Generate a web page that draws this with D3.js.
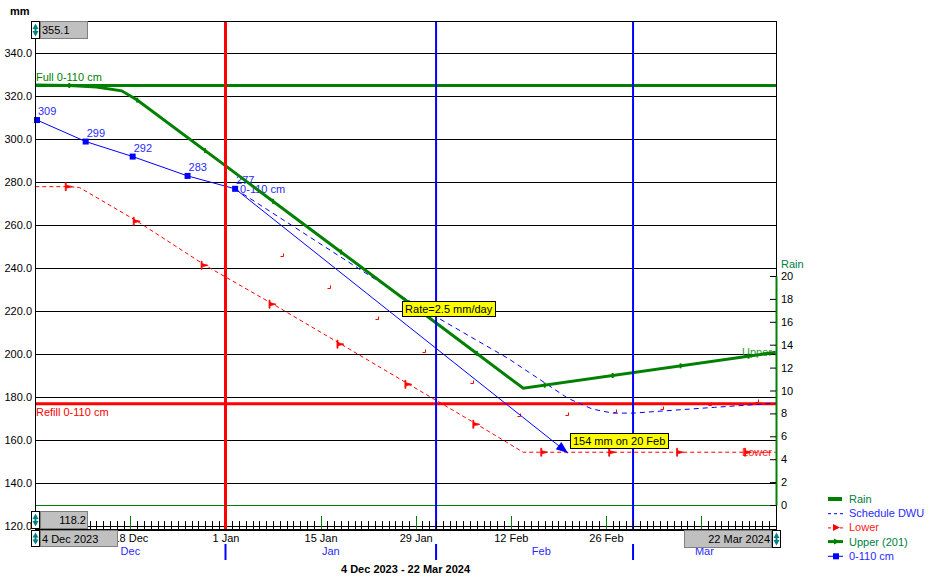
<!DOCTYPE html>
<html><head><meta charset="utf-8">
<script src="https://cdn.jsdelivr.net/npm/d3@7/dist/d3.min.js"></script>
<style>
html,body{margin:0;padding:0;background:#fff;}
svg{display:block;font-family:"Liberation Sans",Arial,Helvetica,sans-serif;font-size:11px;}
</style></head><body>
<svg id="chart" width="940" height="585"></svg>
<script>
// ---------------- DATA ----------------
const dateStart = "2023-12-04", dateEnd = "2024-03-22";
const mmMin = 118.2, mmMax = 355.1;
const mmTicks = [120,140,160,180,200,220,240,260,280,300,320,340];
const rainTicks = [0,2,4,6,8,10,12,14,16,18,20];
const rainMax = 20;
const dateTickDates = ["2023-12-04","2023-12-18","2024-01-01","2024-01-15","2024-01-29","2024-02-12","2024-02-26","2024-03-11"];
const dateLabelDates = ["2023-12-18","2024-01-01","2024-01-15","2024-01-29","2024-02-12","2024-02-26"];
const dateTickLabels = ["18 Dec","1 Jan","15 Jan","29 Jan","12 Feb","26 Feb"];
const monthStartDates = ["2023-12-01","2024-01-01","2024-02-01","2024-03-01"];
const monthLabels = ["Dec","Jan","Feb","Mar"];
const todayDate = "2024-01-01";
const fullValue = 325.1, refillValue = 177.0;
const fullLabel = "Full 0-110 cm", refillLabel = "Refill 0-110 cm";
const periodTitle = "4 Dec 2023 - 22 Mar 2024";
const startBoxLabel = "4 Dec 2023", endBoxLabel = "22 Mar 2024";

// measured 0-110 cm
const measDates = ["2023-12-04T06:00","2023-12-11T10:00","2023-12-18T08:00","2023-12-26T10:00","2024-01-02T10:00"];
const measValues = [309,299,292,283,277];
const measLabel = "0-110 cm";
// projection
const projDates = ["2024-01-02T10:00","2024-02-20T10:00"];
const projValues = [277,154];
const projText = "154 mm on 20 Feb";
const rateText = "Rate=2.5 mm/day";
// schedule DWU
const schedDates = ["2024-01-02T10:00","2024-01-15T07:00","2024-01-28T07:00","2024-02-11T14:00","2024-02-20T10:00","2024-02-24","2024-02-27","2024-03-01","2024-03-13","2024-03-22"];
const schedValues = [277,250.7,224.2,198.1,179.5,174.5,172.6,172.6,175.3,177.2];
// upper (201)
const upperDates = ["2023-12-04","2023-12-09","2023-12-13","2023-12-16T17:00","2023-12-19","2024-01-03","2024-01-18","2024-02-02","2024-02-13T20:00","2024-03-22"];
const upperValues = [325.3,325.1,324.4,322.6,318.3,283.0,247.6,212.2,184.2,200.9];
const upperMarkDates = ["2023-12-09","2023-12-19","2023-12-29","2024-01-08","2024-01-18","2024-01-28","2024-02-07","2024-02-17","2024-02-27","2024-03-08","2024-03-18"];
const upperMarkValues = [325.1,318.3,294.8,271.2,247.6,224.0,200.4,185.6,190.1,194.6,199.1];
// lower
const lowerDates = ["2023-12-04","2023-12-09","2023-12-10T12:00","2023-12-19","2023-12-29","2024-01-08","2024-01-18","2024-01-28","2024-02-07","2024-02-13T20:00","2024-03-22"];
const lowerValues = [278.0,278.0,277.6,261.9,241.4,223.3,204.7,186.0,167.4,154.4,154.4];
const lowerMarkDates = ["2023-12-09","2023-12-19","2023-12-29","2024-01-08","2024-01-18","2024-01-28","2024-02-07","2024-02-17","2024-02-27","2024-03-08","2024-03-18"];
const lowerMarkValues = [278.0,261.9,241.4,223.3,204.7,186.0,167.4,154.4,154.4,154.4,154.4];
// small red schedule marks
const lowerSchedDates = ["2024-01-09T10:00","2024-01-16T10:00","2024-01-23T10:00","2024-01-30T10:00","2024-02-06T10:00","2024-02-13T10:00","2024-02-20T10:00","2024-02-27T10:00","2024-03-05T10:00","2024-03-12T10:00","2024-03-19T10:00"];
const lowerSchedValues = [245.1,230.2,215.8,200.8,186.0,170.7,171.2,172.6,174.0,175.8,177.2];
// rain (none recorded)
const rainDates = [];
const rainValues = [];
const legendLabels = ["Rain","Schedule DWU","Lower","Upper (201)","0-110 cm"];

// ---------------- CHART ----------------
const GREEN = "#008000", BLUE = "#0000ff", RED = "#ff0000", TEAL = "#008080";
const P = s => (s.length > 10 ? d3.timeParse("%Y-%m-%dT%H:%M") : d3.timeParse("%Y-%m-%d"))(s);
const L = 35, R = 776, T = 21, B = 530;
const x = d3.scaleTime().domain([P(dateStart), P(dateEnd)]).range([35.3, 775.7]);
const y = d3.scaleLinear().domain([mmMin, mmMax]).range([B, T]);
const yr = d3.scaleLinear().domain([0, rainMax]).range([505, 276]);
const svg = d3.select("#chart");
const px = v => Math.round(v) + 0.5;

svg.append("defs").append("clipPath").attr("id", "dateclip")
  .append("rect").attr("x", 118).attr("y", 530).attr("width", 566).attr("height", 20);

// gridlines
svg.append("g").selectAll("line").data(mmTicks).join("line")
  .attr("x1", L).attr("x2", R).attr("y1", d => px(y(d))).attr("y2", d => px(y(d)))
  .attr("stroke", "#000").attr("stroke-width", 1);
// rain zero line
svg.append("line").attr("x1", L).attr("x2", R).attr("y1", px(yr(0))).attr("y2", px(yr(0)))
  .attr("stroke", GREEN).attr("stroke-width", 1);
// full / refill
svg.append("line").attr("x1", L).attr("x2", R + 1).attr("y1", y(fullValue)).attr("y2", y(fullValue))
  .attr("stroke", GREEN).attr("stroke-width", 3);
svg.append("line").attr("x1", L).attr("x2", R).attr("y1", y(refillValue)).attr("y2", y(refillValue))
  .attr("stroke", RED).attr("stroke-width", 3);
svg.append("text").attr("x", 36).attr("y", y(fullValue) - 4).attr("fill", GREEN).text(fullLabel);
svg.append("text").attr("x", 36).attr("y", y(refillValue) + 12).attr("fill", RED).text(refillLabel);

// end labels
svg.append("text").attr("x", 772).attr("y", y(upperValues[upperValues.length-1]) + 4)
  .attr("text-anchor", "end").attr("fill", "#2f9a2f").text("Upper");
svg.append("text").attr("x", 772).attr("y", y(lowerValues[lowerValues.length-1]) + 4)
  .attr("text-anchor", "end").attr("fill", "#ff2020").text("Lower");

const line = d3.line().x(d => x(d[0])).y(d => y(d[1]));
const zip = (ds, vs) => ds.map((d, i) => [P(d), vs[i]]);

// lower
svg.append("path").attr("d", line(zip(lowerDates, lowerValues))).attr("fill", "none")
  .attr("stroke", RED).attr("stroke-width", 1).attr("stroke-dasharray", "4,3");
svg.append("g").selectAll("path").data(zip(lowerMarkDates, lowerMarkValues)).join("path")
  .attr("transform", d => `translate(${x(d[0])},${y(d[1])})`)
  .attr("d", "M-4,-4 L-4,4 L-3,4 L-3,1.5 L3,0 L-3,-1.5 L-3,-4 Z")
  .attr("fill", RED).attr("stroke", RED).attr("stroke-width", 0.8);
// small red schedule marks
svg.append("g").selectAll("path").data(zip(lowerSchedDates, lowerSchedValues)).join("path")
  .attr("transform", d => `translate(${Math.round(x(d[0]))},${Math.round(y(d[1]))})`)
  .attr("d", "M-2.5,-0.5 L0.5,-0.5 L0.5,-3.5")
  .attr("fill", "none").attr("stroke", RED).attr("stroke-width", 1);

// schedule DWU
svg.append("path").attr("d", line(zip(schedDates, schedValues))).attr("fill", "none")
  .attr("stroke", BLUE).attr("stroke-width", 1).attr("stroke-dasharray", "5,4");

// projection
const proj = zip(projDates, projValues);
svg.append("path").attr("d", line(proj)).attr("fill", "none").attr("stroke", BLUE).attr("stroke-width", 1);
{
  const x0 = x(proj[0][0]), y0 = y(proj[0][1]), x1 = x(proj[1][0]), y1 = y(proj[1][1]);
  const a = Math.atan2(y1 - y0, x1 - x0) * 180 / Math.PI;
  svg.append("path").attr("transform", `translate(${x1},${y1}) rotate(${a})`)
    .attr("d", "M0,0 L-12,-4.5 L-12,4.5 Z").attr("fill", BLUE);
}

// measured
const meas = zip(measDates, measValues);
svg.append("path").attr("d", line(meas)).attr("fill", "none").attr("stroke", BLUE).attr("stroke-width", 1);
svg.append("g").selectAll("rect").data(meas).join("rect")
  .attr("x", d => x(d[0]) - 3).attr("y", d => y(d[1]) - 3).attr("width", 6).attr("height", 6).attr("fill", BLUE);
svg.append("g").selectAll("text").data(meas).join("text")
  .attr("x", d => x(d[0]) + 1).attr("y", d => y(d[1]) - 5).attr("fill", "#2a2aff").text(d => d[1]);
{
  const last = meas[meas.length - 1];
  svg.append("text").attr("x", x(last[0]) + 5).attr("y", y(last[1]) + 4).attr("fill", "#2a2aff").text(measLabel);
}

// upper
svg.append("path").attr("d", line(zip(upperDates, upperValues))).attr("fill", "none")
  .attr("stroke", GREEN).attr("stroke-width", 3);
svg.append("g").selectAll("rect").data(zip(upperMarkDates, upperMarkValues)).join("rect")
  .attr("x", d => x(d[0]) - 1).attr("y", d => y(d[1]) - 2.5).attr("width", 2).attr("height", 5).attr("fill", GREEN);

// vertical month lines + today
svg.append("g").selectAll("line").data(monthStartDates.slice(1)).join("line")
  .attr("x1", d => x(P(d))).attr("x2", d => x(P(d))).attr("y1", T).attr("y2", B)
  .attr("stroke", BLUE).attr("stroke-width", 2);
svg.append("line").attr("x1", x(P(todayDate))).attr("x2", x(P(todayDate))).attr("y1", T).attr("y2", B)
  .attr("stroke", RED).attr("stroke-width", 3);

// frame
svg.append("line").attr("x1", L + 0.5).attr("x2", L + 0.5).attr("y1", T).attr("y2", B).attr("stroke", "#000");
svg.append("line").attr("x1", L).attr("x2", R).attr("y1", T + 0.5).attr("y2", T + 0.5).attr("stroke", "#000");
svg.append("line").attr("x1", R + 0.5).attr("x2", R + 0.5).attr("y1", T).attr("y2", B).attr("stroke", "#000");

// minor daily ticks
const days = d3.timeDay.range(P(dateStart), d3.timeDay.offset(P(dateEnd), 1));
svg.append("g").selectAll("line").data(days).join("line")
  .attr("x1", d => px(x(d))).attr("x2", d => px(x(d))).attr("y1", 521).attr("y2", B)
  .attr("stroke", "#000").attr("stroke-width", 1);
svg.append("g").selectAll("line").data(dateTickDates).join("line")
  .attr("x1", d => px(x(P(d)))).attr("x2", d => px(x(P(d)))).attr("y1", 516).attr("y2", B)
  .attr("stroke", GREEN).attr("stroke-width", 1);
// redraw today line over ticks
svg.append("line").attr("x1", x(P(todayDate))).attr("x2", x(P(todayDate))).attr("y1", 500).attr("y2", B)
  .attr("stroke", RED).attr("stroke-width", 3);
// bottom axis line
svg.append("line").attr("x1", L).attr("x2", R + 1).attr("y1", B).attr("y2", B).attr("stroke", "#000").attr("stroke-width", 2);

// left axis labels
const yAxis = d3.axisLeft(y).tickValues(mmTicks).tickFormat(d3.format(".1f")).tickSize(0).tickPadding(3);
const gy = svg.append("g").attr("transform", `translate(${L},0)`).call(yAxis);
gy.select(".domain").remove();
gy.selectAll("text").attr("fill", "#000").style("font-size", "11px").style("font-family", "'Liberation Sans',Arial,sans-serif");

// bottom date labels (partly hidden under the start box, as in the source)
const xAxis = d3.axisBottom(x).tickValues(dateLabelDates.map(P)).tickFormat((d, i) => dateTickLabels[i]).tickSize(0).tickPadding(4);
const gx = svg.append("g").attr("clip-path", "url(#dateclip)").append("g").attr("transform", `translate(0,${B})`).call(xAxis);
gx.select(".domain").remove();
gx.selectAll("text").attr("fill", "#000").style("font-size", "11px").style("font-family", "'Liberation Sans',Arial,sans-serif");

// month labels + ticks
const xs = P(dateStart), xe = P(dateEnd);
svg.append("g").selectAll("text").data(monthStartDates).join("text")
  .attr("x", d => {
    const s = P(d) < xs ? xs : P(d);
    const e0 = d3.timeDay.offset(P(d), 31);
    const e = e0 > xe ? xe : e0;
    return (x(s) + x(e)) / 2;
  })
  .attr("y", 555).attr("text-anchor", "middle").attr("fill", "#2a2aff").text((d, i) => monthLabels[i]);
svg.append("g").selectAll("line").data(monthStartDates.slice(1)).join("line")
  .attr("x1", d => x(P(d))).attr("x2", d => x(P(d))).attr("y1", 544).attr("y2", 560)
  .attr("stroke", BLUE).attr("stroke-width", 2);

// title
svg.append("text").attr("x", (L + R) / 2).attr("y", 573).attr("text-anchor", "middle")
  .attr("font-weight", "bold").attr("fill", "#000").text(periodTitle);
svg.append("text").attr("x", 10).attr("y", 15).attr("font-weight", "bold").attr("fill", "#000").text("mm");

// rain axis
const rAxis = d3.axisRight(yr).tickValues(rainTicks).tickSizeInner(-6).tickSizeOuter(0).tickPadding(5);
const gr = svg.append("g").attr("transform", `translate(${R},0)`).call(rAxis);
gr.select(".domain").attr("stroke", GREEN).attr("stroke-width", 2);
gr.selectAll(".tick line").attr("stroke", "#000");
gr.selectAll("text").attr("fill", "#000").style("font-size", "11px").style("font-family", "'Liberation Sans',Arial,sans-serif");
svg.append("text").attr("x", 781).attr("y", 268).attr("fill", "#008040").text("Rain");
svg.append("g").selectAll("rect").data(zip(rainDates, rainValues)).join("rect")
  .attr("x", d => x(d[0]) - 2).attr("y", d => yr(d[1])).attr("width", 4).attr("height", d => yr(0) - yr(d[1])).attr("fill", GREEN);

// spinner boxes
function spinner(sx, sy, h) {
  const g = svg.append("g");
  g.append("rect").attr("x", sx + 0.5).attr("y", sy + 0.5).attr("width", 8).attr("height", h - 1)
    .attr("fill", "#fff").attr("stroke", "#000");
  const m = sy + h / 2;
  g.append("path").attr("d", `M${sx+1.5},${m-1} L${sx+7.5},${m-1} L${sx+4.5},${sy+2.5} Z`).attr("fill", TEAL);
  g.append("path").attr("d", `M${sx+1.5},${m+1} L${sx+7.5},${m+1} L${sx+4.5},${sy+h-2.5} Z`).attr("fill", TEAL);
  g.append("line").attr("x1", sx + 4.5).attr("x2", sx + 4.5).attr("y1", m - 2).attr("y2", m + 2).attr("stroke", TEAL).attr("stroke-width", 2);
}
function grayBox(bx, by, w, h, txt, anchor) {
  svg.append("rect").attr("x", bx + 0.5).attr("y", by + 0.5).attr("width", w - 1).attr("height", h - 1)
    .attr("fill", "#c0c0c0").attr("stroke", "#808080");
  svg.append("text").attr("x", anchor === "end" ? bx + w - 2 : bx + 2).attr("y", by + h / 2 + 4)
    .attr("text-anchor", anchor).attr("fill", "#000").text(txt);
}
grayBox(40, 21, 48, 18, d3.format(".1f")(mmMax), "start"); spinner(31, 21, 18);
grayBox(40, 511, 48, 18, d3.format(".1f")(mmMin), "end"); spinner(31, 511, 18);
grayBox(40, 530, 78, 17, startBoxLabel, "start"); spinner(31, 530, 17);
grayBox(684, 530, 88, 18, endBoxLabel, "end"); spinner(772, 530, 18);

// annotation boxes
function noteBox(lx, cy, txt) {
  const g = svg.append("g");
  const r = g.append("rect").attr("fill", "#ffff00").attr("stroke", "#000");
  const t = g.append("text").attr("x", lx + 3).attr("y", cy + 4).attr("fill", "#000").text(txt);
  const w = t.node().getComputedTextLength() + 6;
  r.attr("x", Math.round(lx) + 0.5).attr("y", Math.round(cy - 8) + 0.5).attr("width", Math.round(w)).attr("height", 15);
}
noteBox(x(P("2024-01-27T00:00")), y(221.2), rateText);
noteBox(x(proj[1][0]) + 2, y(proj[1][1]) - 12, projText);

// legend
const lg = svg.append("g").attr("transform", "translate(828,499)");
const rowH = 14.2;
const tcols = ["#008040", "#2a2aff", "#ff2020", "#008040", "#2a2aff"];
legendLabels.forEach((lab, i) => {
  const yy = i * rowH;
  const g = lg.append("g").attr("transform", `translate(0,${yy})`);
  if (i === 0) g.append("line").attr("x1", 0).attr("x2", 14).attr("y1", 0).attr("y2", 0).attr("stroke", GREEN).attr("stroke-width", 4);
  if (i === 1) g.append("line").attr("x1", 0).attr("x2", 15).attr("y1", 0.5).attr("y2", 0.5).attr("stroke", BLUE).attr("stroke-dasharray", "3,3");
  if (i === 2) {
    g.append("line").attr("x1", 0).attr("x2", 15).attr("y1", 0.5).attr("y2", 0.5).attr("stroke", RED).attr("stroke-dasharray", "3,3");
    g.append("path").attr("transform", "translate(9,0)").attr("d", "M-4,-3.5 L-4,3.5 L3,0 Z").attr("fill", RED);
  }
  if (i === 3) {
    g.append("line").attr("x1", 0).attr("x2", 15).attr("y1", 0).attr("y2", 0).attr("stroke", GREEN).attr("stroke-width", 3);
    g.append("path").attr("transform", "translate(9,0)").attr("d", "M-3,-3 L-3,3 L3,0 Z").attr("fill", GREEN);
  }
  if (i === 4) {
    g.append("line").attr("x1", 0).attr("x2", 15).attr("y1", 0.5).attr("y2", 0.5).attr("stroke", BLUE);
    g.append("rect").attr("x", 5).attr("y", -2.5).attr("width", 6).attr("height", 6).attr("fill", BLUE);
  }
  g.append("text").attr("x", 21).attr("y", 4).attr("fill", tcols[i]).text(lab);
});
</script>
</body></html>
